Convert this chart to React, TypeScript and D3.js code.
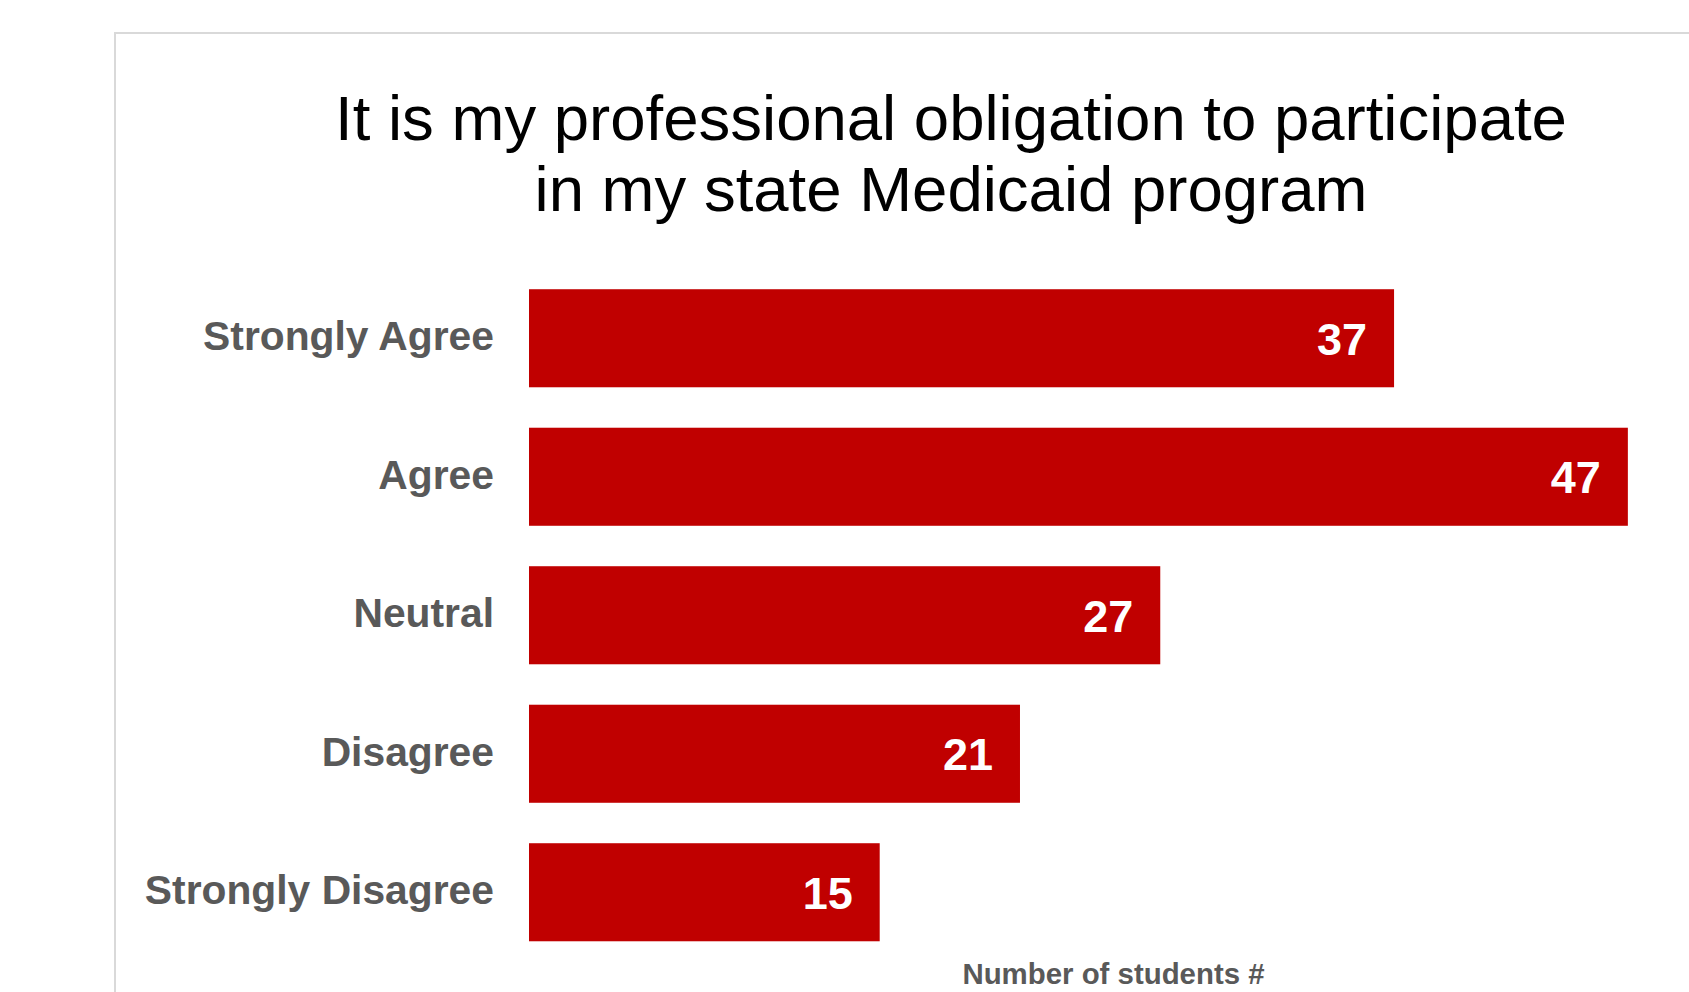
import React from "react";
import * as d3 from "d3";

const categories: string[] = ["Strongly Agree", "Agree", "Neutral", "Disagree", "Strongly Disagree"];
const values: number[] = [37, 47, 27, 21, 15];
const titleLines: string[] = ["It is my professional obligation to participate", "in my state Medicaid program"];
const xAxisTitle = "Number of students #";
const xDomainMax = 50;

const W = 1689;
const H = 992;
const FONT = "'Liberation Sans', Arial, Helvetica, sans-serif";

export default function App() {
  React.useEffect(() => {
    document.body.style.margin = "0";
    document.body.style.overflow = "hidden";
  }, []);

  const plotLeft = 529;
  const plotRight = 1698;
  const x = d3.scaleLinear().domain([0, xDomainMax]).range([plotLeft, plotRight]);
  const y = d3
    .scaleBand<string>()
    .domain(categories)
    .range([269, 961.5])
    .paddingInner(0.292)
    .paddingOuter(0.146);
  const bh = y.bandwidth();

  return (
    <svg width={W} height={H} style={{ position: "absolute", left: 0, top: 0, display: "block", background: "#fff" }}>
      <rect x={115} y={33} width={W} height={H} fill="#fff" stroke="#d9d9d9" strokeWidth={2} />
      <g fontFamily={FONT} fill="#000" fontSize={63.5} textAnchor="middle">
        {titleLines.map((t, i) => (
          <text key={i} x={951} y={139.5 + i * 71.5}>
            {t}
          </text>
        ))}
      </g>
      {categories.map((c, i) => {
        const yy = y(c)!;
        const cy = yy + bh / 2;
        return (
          <g key={c}>
            <rect x={x(0)} y={yy} width={x(values[i]) - x(0)} height={bh} fill="#C00000" />
            <text
              x={x(values[i]) - 27}
              y={cy + 16.5}
              textAnchor="end"
              fontFamily={FONT}
              fontWeight="bold"
              fontSize={45}
              fill="#fff"
            >
              {values[i]}
            </text>
            <text
              x={494}
              y={cy + 12}
              textAnchor="end"
              fontFamily={FONT}
              fontWeight="bold"
              fontSize={40.8}
              fill="#595959"
            >
              {c}
            </text>
          </g>
        );
      })}
      <text
        x={(plotLeft + plotRight) / 2}
        y={984}
        textAnchor="middle"
        fontFamily={FONT}
        fontWeight="bold"
        fontSize={29.4}
        fill="#595959"
      >
        {xAxisTitle}
      </text>
    </svg>
  );
}
